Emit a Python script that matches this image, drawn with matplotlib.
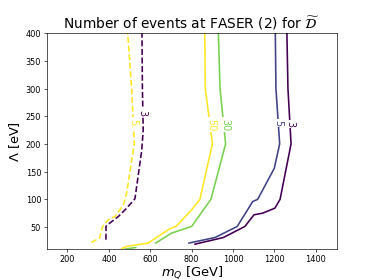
import matplotlib
matplotlib.use("Agg")
import matplotlib.pyplot as plt

# contour lines: (m_Q [GeV], Lambda [eV])
solid3_x = [816, 953, 1057, 1101, 1143, 1202, 1227, 1280, 1265, 1260]
solid3_y = [19, 31, 51, 72, 75, 84, 100, 200, 300, 400]

solid5_x = [787, 913, 1020, 1095, 1119, 1199, 1225, 1207, 1204]
solid5_y = [21, 31, 51, 96, 100, 156, 200, 300, 400]

solid30_x = [626, 703, 800, 893, 964, 937, 929]
solid30_y = [21, 39, 51, 100, 200, 300, 400]
blob30_x = [478, 530]
blob30_y = [10, 13]

solid50_x = [462, 486, 590, 695, 724, 800, 840, 900, 866, 863]
solid50_y = [11, 15, 21, 47, 51, 81, 100, 200, 300, 400]

dash3_x = [386, 386, 397, 446, 486, 526, 559, 566, 562, 560]
dash3_y = [27, 51, 55, 69, 84, 101, 189, 226, 300, 400]

dash5_x = [315, 355, 370, 397, 430, 470, 486, 523, 510, 491]
dash5_y = [22, 30, 51, 63, 69, 90, 111, 201, 300, 400]

# contour label text and where it sits
labels = ["3", "5", "30", "50", "3", "5."]
label_x = [1275, 1218, 961, 892, 563, 518]
label_y = [236, 238, 235, 235, 256, 238]

colors = ["#440154", "#414487", "#7ad151", "#fde725", "#440154", "#fde725"]

fig, ax = plt.subplots(figsize=(6.4, 4.8), dpi=374 / 6.4)

series = [(solid3_x, solid3_y, "-"), (solid5_x, solid5_y, "-"),
          (solid30_x, solid30_y, "-"), (solid50_x, solid50_y, "-"),
          (dash3_x, dash3_y, "--"), (dash5_x, dash5_y, "--")]
for (xs, ys, ls), c in zip(series, colors):
    ax.plot(xs, ys, ls, color=c, lw=2)
ax.plot(blob30_x, blob30_y, "-", color=colors[2], lw=2)

for t, x, y, c in zip(labels, label_x, label_y, colors):
    ax.text(x, y, t, color=c, fontsize=12, rotation=270, ha="center", va="center",
            bbox=dict(facecolor="white", edgecolor="none", pad=1.5))

ax.set_xlim(100, 1500)
ax.set_ylim(10, 400)
ax.set_xticks([200, 400, 600, 800, 1000, 1200, 1400])
ax.set_yticks([50, 100, 150, 200, 250, 300, 350, 400])
ax.tick_params(labelsize=10)
ax.set_xlabel(r"$m_Q$ [GeV]", fontsize=16, labelpad=0)
ax.set_ylabel(r"$\Lambda$ [eV]", fontsize=16)
ax.set_title(r"Number of events at FASER (2) for $\widetilde{\mathcal{D}}$", fontsize=17)

fig.savefig("out.png", dpi=374 / 6.4)
